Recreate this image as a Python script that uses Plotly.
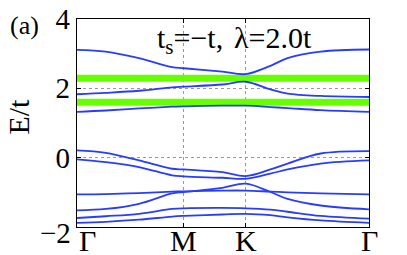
import plotly.graph_objects as go

# k-path positions (Gamma=0, M=1, K=1+1/sqrt3, Gamma=1+sqrt3)
tick_pos = [0.0, 1.0, 1.577, 2.732]
tick_text = ["Γ", "M", "K", "Γ"]
ytick_vals = [-2, 0, 2, 4]
ytick_text = ["−2", "0", "2", "4"]

k = [0.0, 0.27, 0.58, 0.89, 1.0, 1.36, 1.577, 1.81, 1.97, 2.28, 2.732]

band_u1 = [3.11, 3.06, 2.87, 2.61, 2.58, 2.48, 2.41, 2.65, 2.87, 3.06, 3.12]
band_u2 = [1.83, 1.87, 1.93, 2.03, 2.05, 2.11, 2.19, 1.97, 1.85, 1.78, 1.75]
band_u3 = [1.32, 1.36, 1.42, 1.47, 1.48, 1.50, 1.50, 1.46, 1.43, 1.37, 1.32]
band_l1 = [0.21, 0.14, -0.08, -0.32, -0.34, -0.42, -0.53, -0.34, -0.17, 0.12, 0.19]
band_l2 = [-0.05, -0.13, -0.27, -0.51, -0.54, -0.58, -0.61, -0.46, -0.34, -0.17, -0.08]
band_l3 = [-1.06, -1.05, -1.02, -0.98, -0.97, -0.95, -0.95, -0.98, -1.00, -1.03, -1.06]
band_l4 = [-1.52, -1.48, -1.33, -1.03, -0.99, -0.87, -0.75, -0.99, -1.19, -1.38, -1.49]
band_l5 = [-1.74, -1.69, -1.62, -1.48, -1.46, -1.45, -1.46, -1.50, -1.56, -1.68, -1.76]
band_l6 = [-1.88, -1.85, -1.79, -1.70, -1.68, -1.64, -1.62, -1.66, -1.72, -1.81, -1.88]

flat_bands = [2.29, 1.60]

blue_bands = [band_u1, band_u2, band_u3, band_l1, band_l2, band_l3, band_l4, band_l5, band_l6]

BLUE = "rgb(40,60,255)"
GREEN = "rgb(102,255,0)"
FONT = "Liberation Serif, DejaVu Serif, Times New Roman, serif"

fig = go.Figure()
for e in flat_bands:
    fig.add_trace(go.Scatter(x=[tick_pos[0], tick_pos[-1]], y=[e, e], mode="lines",
                             line=dict(color=GREEN, width=7), hoverinfo="skip"))
for b in blue_bands:
    fig.add_trace(go.Scatter(x=k, y=b, mode="lines",
                             line=dict(color=BLUE, width=1.8, shape="spline", smoothing=1.0),
                             hoverinfo="skip"))

# page body adds an 8px offset, so the figure is 8px smaller
fig.update_layout(
    width=399, height=247,
    margin=dict(l=69, r=38, t=11, b=28),
    paper_bgcolor="white", plot_bgcolor="white",
    showlegend=False,
    font=dict(family=FONT, size=27, color="black"),
)
fig.update_xaxes(range=[0, 2.732], tickvals=tick_pos, showticklabels=False,
                 showgrid=True, gridcolor="#999", griddash="dot", gridwidth=1,
                 showline=True, linecolor="black", linewidth=1.2, mirror="ticks",
                 ticks="inside", ticklen=4, tickcolor="black",
                 zeroline=False, automargin=False)
fig.update_yaxes(range=[-2, 4], tickvals=ytick_vals,
                 ticktext=[t if v != -2 else "" for v, t in zip(ytick_vals, ytick_text)],
                 showgrid=True, gridcolor="#999", griddash="dot", gridwidth=1,
                 showline=True, linecolor="black", linewidth=1.2, mirror="ticks",
                 ticks="inside", ticklen=4, tickcolor="black",
                 zeroline=False, tickfont=dict(family=FONT, size=29),
                 automargin=False, ticklabelstandoff=0, ticklabeloverflow="allow")

# bottom tick labels (first one nudged right as in the original)
for i, (pos, lab) in enumerate(zip(tick_pos, tick_text)):
    fig.add_annotation(text=lab, xref="x", yref="paper", x=pos, y=-0.067,
                       xanchor="center", yanchor="middle", showarrow=False,
                       xshift=10 if i == 0 else 0,
                       font=dict(family=FONT, size=30))
# lowest y tick label sits slightly below its tick
fig.add_annotation(text=ytick_text[0], xref="paper", yref="y", x=-0.0137, y=ytick_vals[0],
                   xanchor="right", yanchor="middle", showarrow=False, yshift=-6,
                   font=dict(family=FONT, size=29))

fig.add_annotation(text="E/t", xref="paper", yref="paper", x=-0.2, y=0.529,
                   xanchor="center", yanchor="middle", showarrow=False, textangle=-90,
                   font=dict(family=FONT, size=30))
fig.add_annotation(text="(a)", xref="paper", yref="paper", x=-0.18, y=0.97,
                   xanchor="center", yanchor="middle", showarrow=False,
                   font=dict(family=FONT, size=26))
fig.add_annotation(text="t<sub>s</sub>=−t,", xref="paper", yref="paper",
                   x=0.267, y=1.0, xanchor="left", yanchor="top", align="left",
                   showarrow=False, font=dict(family=FONT, size=30))
fig.add_annotation(text="λ=2.0t", xref="paper", yref="paper",
                   x=0.530, y=1.0, xanchor="left", yanchor="top", align="left",
                   showarrow=False, font=dict(family=FONT, size=30))

fig.write_html("out.html")
